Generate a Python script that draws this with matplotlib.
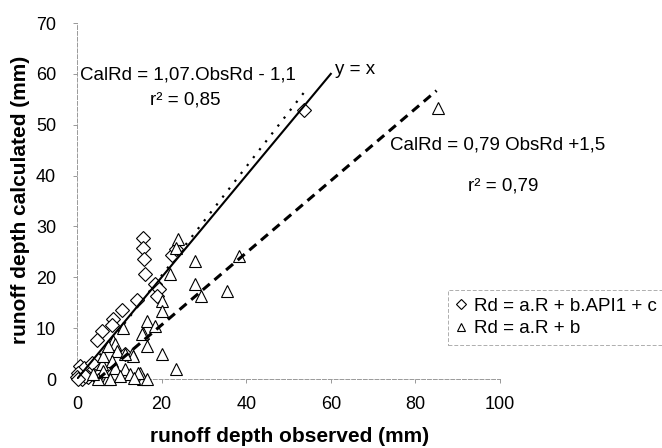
import matplotlib
matplotlib.use("Agg")
import matplotlib.pyplot as plt
import numpy as np

plt.rcParams["font.family"] = ["Liberation Sans", "DejaVu Sans"]

# ---------------------------------------------------------------------------
# Data (observed, calculated) in mm
# ---------------------------------------------------------------------------
# Rd = a.R + b.API1 + c  (diamonds)
diam_obs = [53.6, 15.5, 15.5, 15.8, 16.0, 22.4, 23.3, 18.4, 19.5, 18.8,
            14.1, 10.6, 8.5, 8.2, 5.9, 4.7, 11.3, 0.7, 1.6, 3.1,
            0.2, 0.0, 1.2, 2.6, 4.2, 5.4, 6.6, 3.5, 1.9, 0.2]
diam_cal = [52.9, 27.8, 25.8, 23.5, 20.7, 24.3, 25.6, 18.7, 17.6, 16.4,
            15.6, 13.6, 11.8, 10.7, 9.5, 7.7, 4.9, 2.6, 2.2, 1.2,
            1.2, 0.4, 0.0, 0.4, 0.6, 1.2, 2.4, 3.2, 0.6, 0.0]

# Rd = a.R + b  (triangles)
tri_obs = [85.4, 23.8, 23.5, 27.8, 21.9, 38.4, 27.8, 29.4, 35.5, 20.0,
           20.2, 16.5, 18.4, 15.5, 16.5, 20.2, 23.5, 15.5, 14.8, 10.8,
           8.5, 12.9, 7.1, 8.9, 9.4, 15.3, 13.2, 11.3, 8.2, 5.9,
           6.1, 8.9, 11.3, 12.5, 14.4, 16.5, 7.8, 4.9, 3.8, 6.1,
           7.3, 10.1, 13.4]
tri_cal = [53.3, 27.6, 25.8, 23.3, 20.7, 24.1, 18.7, 16.4, 17.4, 15.4,
           13.4, 11.4, 10.5, 9.1, 6.5, 4.9, 2.0, 0.0, 1.2, 10.1,
           7.5, 4.9, 0.0, 6.9, 5.5, 8.9, 4.5, 4.9, 3.6, 3.0,
           1.6, 2.2, 2.0, 1.0, 1.2, 0.0, 0.0, 0.0, 1.0, 4.5,
           6.5, 0.6, 0.2]

# line end points as drawn in the reference
yx_obs, yx_cal = [0, 60], [0, 60]                 # y = x
fit1_obs, fit1_cal = [1.0, 54.1], [0.0, 56.8]     # CalRd = 1,07.ObsRd - 1,1
fit2_obs, fit2_cal = [5.0, 85.0], [0.0, 56.7]     # CalRd = 0,79 ObsRd +1,5

x_ticks = [0, 20, 40, 60, 80, 100]
y_ticks = [0, 10, 20, 30, 40, 50, 60, 70]

# ---------------------------------------------------------------------------
W, H = 662, 448
fig = plt.figure(figsize=(W / 100, H / 100), dpi=100)
ax = fig.add_axes([77 / W, 1 - 379 / H, (500 - 77) / W, (379 - 23) / H])

ax.plot(diam_obs, diam_cal, linestyle="none", marker="D", ms=7, mfc="white",
        mec="black", mew=0.8, clip_on=False, zorder=3,
        label="Rd = a.R + b.API1 + c")
ax.plot(tri_obs, tri_cal, linestyle="none", marker="^", ms=8, mfc="white",
        mec="black", mew=0.8, clip_on=False, zorder=3, label="Rd = a.R + b")

ax.plot(yx_obs, yx_cal, color="black", lw=1.5, zorder=4)
ax.plot(fit1_obs, fit1_cal, color="black", lw=1.6, linestyle=(0, (1, 3.5)), zorder=2)
ax.plot(fit2_obs, fit2_cal, color="black", lw=2.2, linestyle=(0, (3, 2)), zorder=4)

ax.set_xlim(0, 100)
ax.set_ylim(0, 70)
ax.set_xticks(x_ticks)
ax.set_yticks(y_ticks)
ax.tick_params(labelsize=13, length=3, width=0.6, color="#888888")
ax.tick_params(axis="y", pad=12)
ax.tick_params(axis="x", pad=9)
for s in ["top", "right"]:
    ax.spines[s].set_visible(False)
for s in ["left", "bottom"]:
    ax.spines[s].set_color("#999999")
    ax.spines[s].set_linewidth(0.7)
    ax.spines[s].set_linestyle((0, (4, 2)))

ax.set_xlabel("runoff depth observed (mm)", fontsize=15, fontweight="bold")
ax.set_ylabel("runoff depth calculated (mm)", fontsize=15, fontweight="bold")
ax.xaxis.set_label_coords((290 - 77) / (500 - 77), -(427 - 379) / (379 - 23))
ax.yaxis.set_label_coords(-(77 - 30) / (500 - 77), (379 - 200) / (379 - 23))

# equation annotations (figure pixel positions)
def ftext(px, py, s, **kw):
    fig.text(px / W, 1 - py / H, s, fontsize=13.5, va="center", **kw)

ftext(80, 75, "CalRd = 1,07.ObsRd - 1,1")
ftext(150, 100, "r² = 0,85")
ftext(335, 69, "y = x")
ftext(390, 145, "CalRd = 0,79 ObsRd +1,5")
ftext(468, 186, "r² = 0,79")

leg = fig.legend(loc="upper left", bbox_to_anchor=(448 / W, 1 - 290 / H),
                 fontsize=13.5, frameon=True, fancybox=False, markerscale=0.7,
                 handlelength=0.6, handletextpad=0.4, borderpad=0.4,
                 labelspacing=0.3, borderaxespad=0)
leg.get_frame().set_edgecolor("#999999")
leg.get_frame().set_linewidth(0.7)
leg.get_frame().set_linestyle((0, (4, 2)))

fig.savefig("out.png", dpi=100)
